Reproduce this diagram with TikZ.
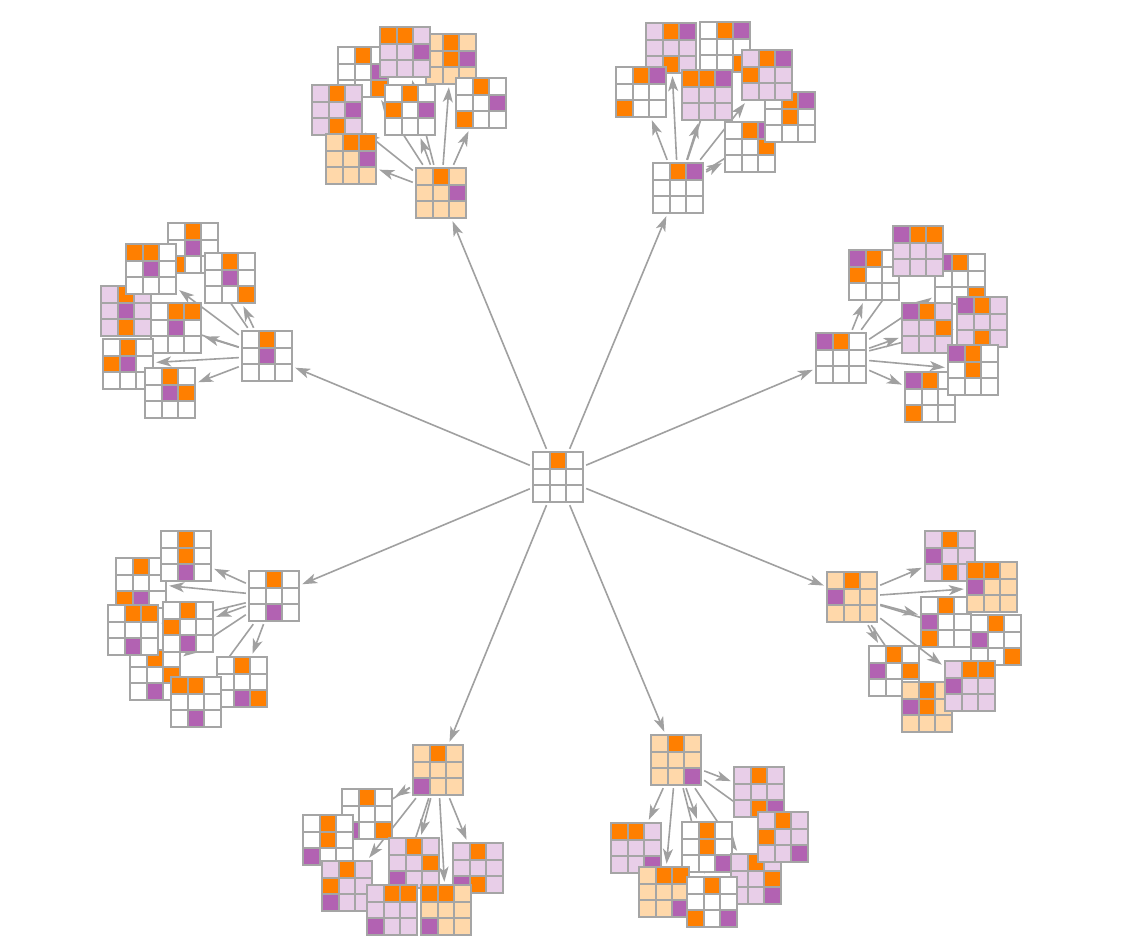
\documentclass[tikz,border=0pt]{standalone}
\usetikzlibrary{arrows.meta}
\definecolor{xo}{RGB}{255,127,0}
\definecolor{oo}{RGB}{178,98,178}
\definecolor{pe}{RGB}{255,216,170}
\definecolor{pk}{RGB}{232,206,232}
\definecolor{wh}{RGB}{255,255,255}
\definecolor{gr}{RGB}{165,165,165}
\definecolor{eg}{RGB}{160,160,160}
\newcommand\csz{16.8}
\newcommand\nd[3]{\node[bnode] (#1) at (#2,#3) {};}
\newcommand\brd[4]{%
 \begin{scope}[shift={(#1.center)}]
 \foreach \rr in {0,1,2}{\foreach \kk in {0,1,2}{\path[cell,fill=#2] ({(\kk-1.5)*\csz},{(\rr-1.5)*\csz}) rectangle ++(\csz,\csz);}}
 \foreach \rr/\kk in {#4}{\path[cell,fill=oo] ({(\kk-1.5)*\csz},{(\rr-1.5)*\csz}) rectangle ++(\csz,\csz);}
 \foreach \rr/\kk in {#3}{\path[cell,fill=xo] ({(\kk-1.5)*\csz},{(\rr-1.5)*\csz}) rectangle ++(\csz,\csz);}
 \end{scope}}
\tikzset{
 bnode/.style={rectangle, minimum size=50.4pt, inner sep=0pt, outer sep=3pt},
 cell/.style={draw=gr, line width=2pt},
 edge/.style={draw=eg, line width=1.6pt, -{Stealth[length=15pt,width=10pt,inset=4pt]}},
}
\begin{document}
\begin{tikzpicture}[x=1pt,y=-1pt]
\fill[white] (0,0) rectangle (1136,940);
\useasboundingbox (0,0) rectangle (1136,940);
% nodes
\nd{C}{558}{477}
\nd{K1}{441}{193}\nd{K2}{678}{188}\nd{K3}{841}{358}\nd{K4}{267}{356}
\nd{K5}{274}{596}\nd{K6}{852}{597}\nd{K7}{438}{770}\nd{K8}{676}{760}
% cluster 1
\nd{G1a}{405}{52}\nd{G1b}{451}{59}\nd{G1c}{363}{72}\nd{G1d}{337}{110}
\nd{G1e}{410}{110}\nd{G1f}{481}{103}\nd{G1g}{351}{159}
% cluster 2
\nd{G2a}{671}{48}\nd{G2b}{725}{47}\nd{G2c}{641}{92}\nd{G2d}{707}{95}
\nd{G2e}{767}{75}\nd{G2f}{790}{117}\nd{G2g}{750}{147}
% cluster 3
\nd{G3a}{918}{251}\nd{G3b}{874}{275}\nd{G3c}{960}{279}\nd{G3d}{927}{328}
\nd{G3e}{982}{322}\nd{G3f}{973}{370}\nd{G3g}{930}{397}
% cluster 4
\nd{G4a}{193}{248}\nd{G4b}{151}{269}\nd{G4c}{230}{278}\nd{G4d}{126}{311}
\nd{G4e}{176}{328}\nd{G4f}{128}{364}\nd{G4g}{170}{393}
% cluster 5
\nd{G5a}{186}{556}\nd{G5b}{141}{583}\nd{G5c}{133}{630}\nd{G5d}{188}{627}
\nd{G5e}{155}{675}\nd{G5f}{242}{682}\nd{G5g}{196}{702}
% cluster 6
\nd{G6a}{950}{556}\nd{G6b}{992}{587}\nd{G6c}{946}{622}\nd{G6d}{996}{640}
\nd{G6e}{894}{671}\nd{G6f}{927}{707}\nd{G6g}{970}{686}
% cluster 7
\nd{G7a}{367}{814}\nd{G7b}{328}{840}\nd{G7c}{414}{863}\nd{G7d}{478}{868}
\nd{G7e}{347}{886}\nd{G7f}{392}{910}\nd{G7g}{446}{910}
% cluster 8
\nd{G8a}{759}{792}\nd{G8b}{783}{837}\nd{G8c}{636}{848}\nd{G8d}{707}{847}
\nd{G8e}{756}{879}\nd{G8f}{664}{892}\nd{G8g}{712}{902}
% edges
\foreach \t in {K1,K2,K3,K4,K5,K6,K7,K8}{\draw[edge] (C) -- (\t);}
\foreach \n in {1,...,8}{\foreach \g in {a,b,c,d,e,f,g}{\draw[edge] (K\n) -- (G\n\g);}}
% boards cluster 1 (O 1/2)
\brd{G1c}{wh}{0/1,2/2}{1/2}
\brd{G1b}{pe}{0/1,1/1}{1/2}
\brd{G1a}{pk}{0/1,0/0}{1/2}
\brd{G1d}{pk}{0/1,2/1}{1/2}
\brd{G1e}{wh}{0/1,1/0}{1/2}
\brd{G1f}{wh}{0/1,2/0}{1/2}
\brd{G1g}{pe}{0/1,0/2}{1/2}
% cluster 2 (O 0/2)
\brd{G2a}{pk}{0/1,2/1}{0/2}
\brd{G2b}{wh}{0/1,2/2}{0/2}
\brd{G2c}{wh}{0/1,2/0}{0/2}
\brd{G2d}{pk}{0/1,0/0}{0/2}
\brd{G2g}{wh}{0/1,1/2}{0/2}
\brd{G2f}{wh}{0/1,1/1}{0/2}
\brd{G2e}{pk}{0/1,1/0}{0/2}
% cluster 3 (O 0/0)
\brd{G3b}{wh}{0/1,1/0}{0/0}
\brd{G3c}{wh}{0/1,2/2}{0/0}
\brd{G3a}{pk}{0/1,0/2}{0/0}
\brd{G3d}{pk}{0/1,1/2}{0/0}
\brd{G3e}{pk}{0/1,2/1}{0/0}
\brd{G3g}{wh}{0/1,2/0}{0/0}
\brd{G3f}{wh}{0/1,1/1}{0/0}
% cluster 4 (O 1/1)
\brd{G4a}{wh}{0/1,2/0}{1/1}
\brd{G4c}{wh}{0/1,2/2}{1/1}
\brd{G4d}{pk}{0/1,2/1}{1/1}
\brd{G4b}{wh}{0/1,0/0}{1/1}
\brd{G4e}{wh}{0/1,0/2}{1/1}
\brd{G4f}{wh}{0/1,1/0}{1/1}
\brd{G4g}{wh}{0/1,1/2}{1/1}
% cluster 5 (O 2/1)
\brd{G5b}{wh}{0/1,2/0}{2/1}
\brd{G5a}{wh}{0/1,1/1}{2/1}
\brd{G5e}{wh}{0/1,1/2}{2/1}
\brd{G5c}{wh}{0/1,0/2}{2/1}
\brd{G5d}{wh}{0/1,1/0}{2/1}
\brd{G5f}{wh}{0/1,2/2}{2/1}
\brd{G5g}{wh}{0/1,0/0}{2/1}
% cluster 6 (O 1/0)
\brd{G6a}{pk}{0/1,2/1}{1/0}
\brd{G6c}{wh}{0/1,2/0}{1/0}
\brd{G6b}{pe}{0/1,0/0}{1/0}
\brd{G6d}{wh}{0/1,2/2}{1/0}
\brd{G6e}{wh}{0/1,1/2}{1/0}
\brd{G6f}{pe}{0/1,1/1}{1/0}
\brd{G6g}{pk}{0/1,0/2}{1/0}
% cluster 7 (O 2/0)
\brd{G7a}{wh}{0/1,2/2}{2/0}
\brd{G7b}{wh}{0/1,1/1}{2/0}
\brd{G7c}{pk}{0/1,1/2}{2/0}
\brd{G7d}{pk}{0/1,2/1}{2/0}
\brd{G7e}{pk}{0/1,1/0}{2/0}
\brd{G7f}{pk}{0/1,0/2}{2/0}
\brd{G7g}{pe}{0/1,0/0}{2/0}
% cluster 8 (O 2/2)
\brd{G8a}{pk}{0/1,2/1}{2/2}
\brd{G8d}{wh}{0/1,1/1}{2/2}
\brd{G8e}{pk}{0/1,1/2}{2/2}
\brd{G8b}{pk}{0/1,1/0}{2/2}
\brd{G8c}{pk}{0/1,0/0}{2/2}
\brd{G8f}{pe}{0/1,0/2}{2/2}
\brd{G8g}{wh}{0/1,2/0}{2/2}
% children and root
\brd{K1}{pe}{0/1}{1/2}
\brd{K2}{wh}{0/1}{0/2}
\brd{K3}{wh}{0/1}{0/0}
\brd{K4}{wh}{0/1}{1/1}
\brd{K5}{wh}{0/1}{2/1}
\brd{K6}{pe}{0/1}{1/0}
\brd{K7}{pe}{0/1}{2/0}
\brd{K8}{pe}{0/1}{2/2}
\brd{C}{wh}{0/1}{0/1}
\end{tikzpicture}
\end{document}
